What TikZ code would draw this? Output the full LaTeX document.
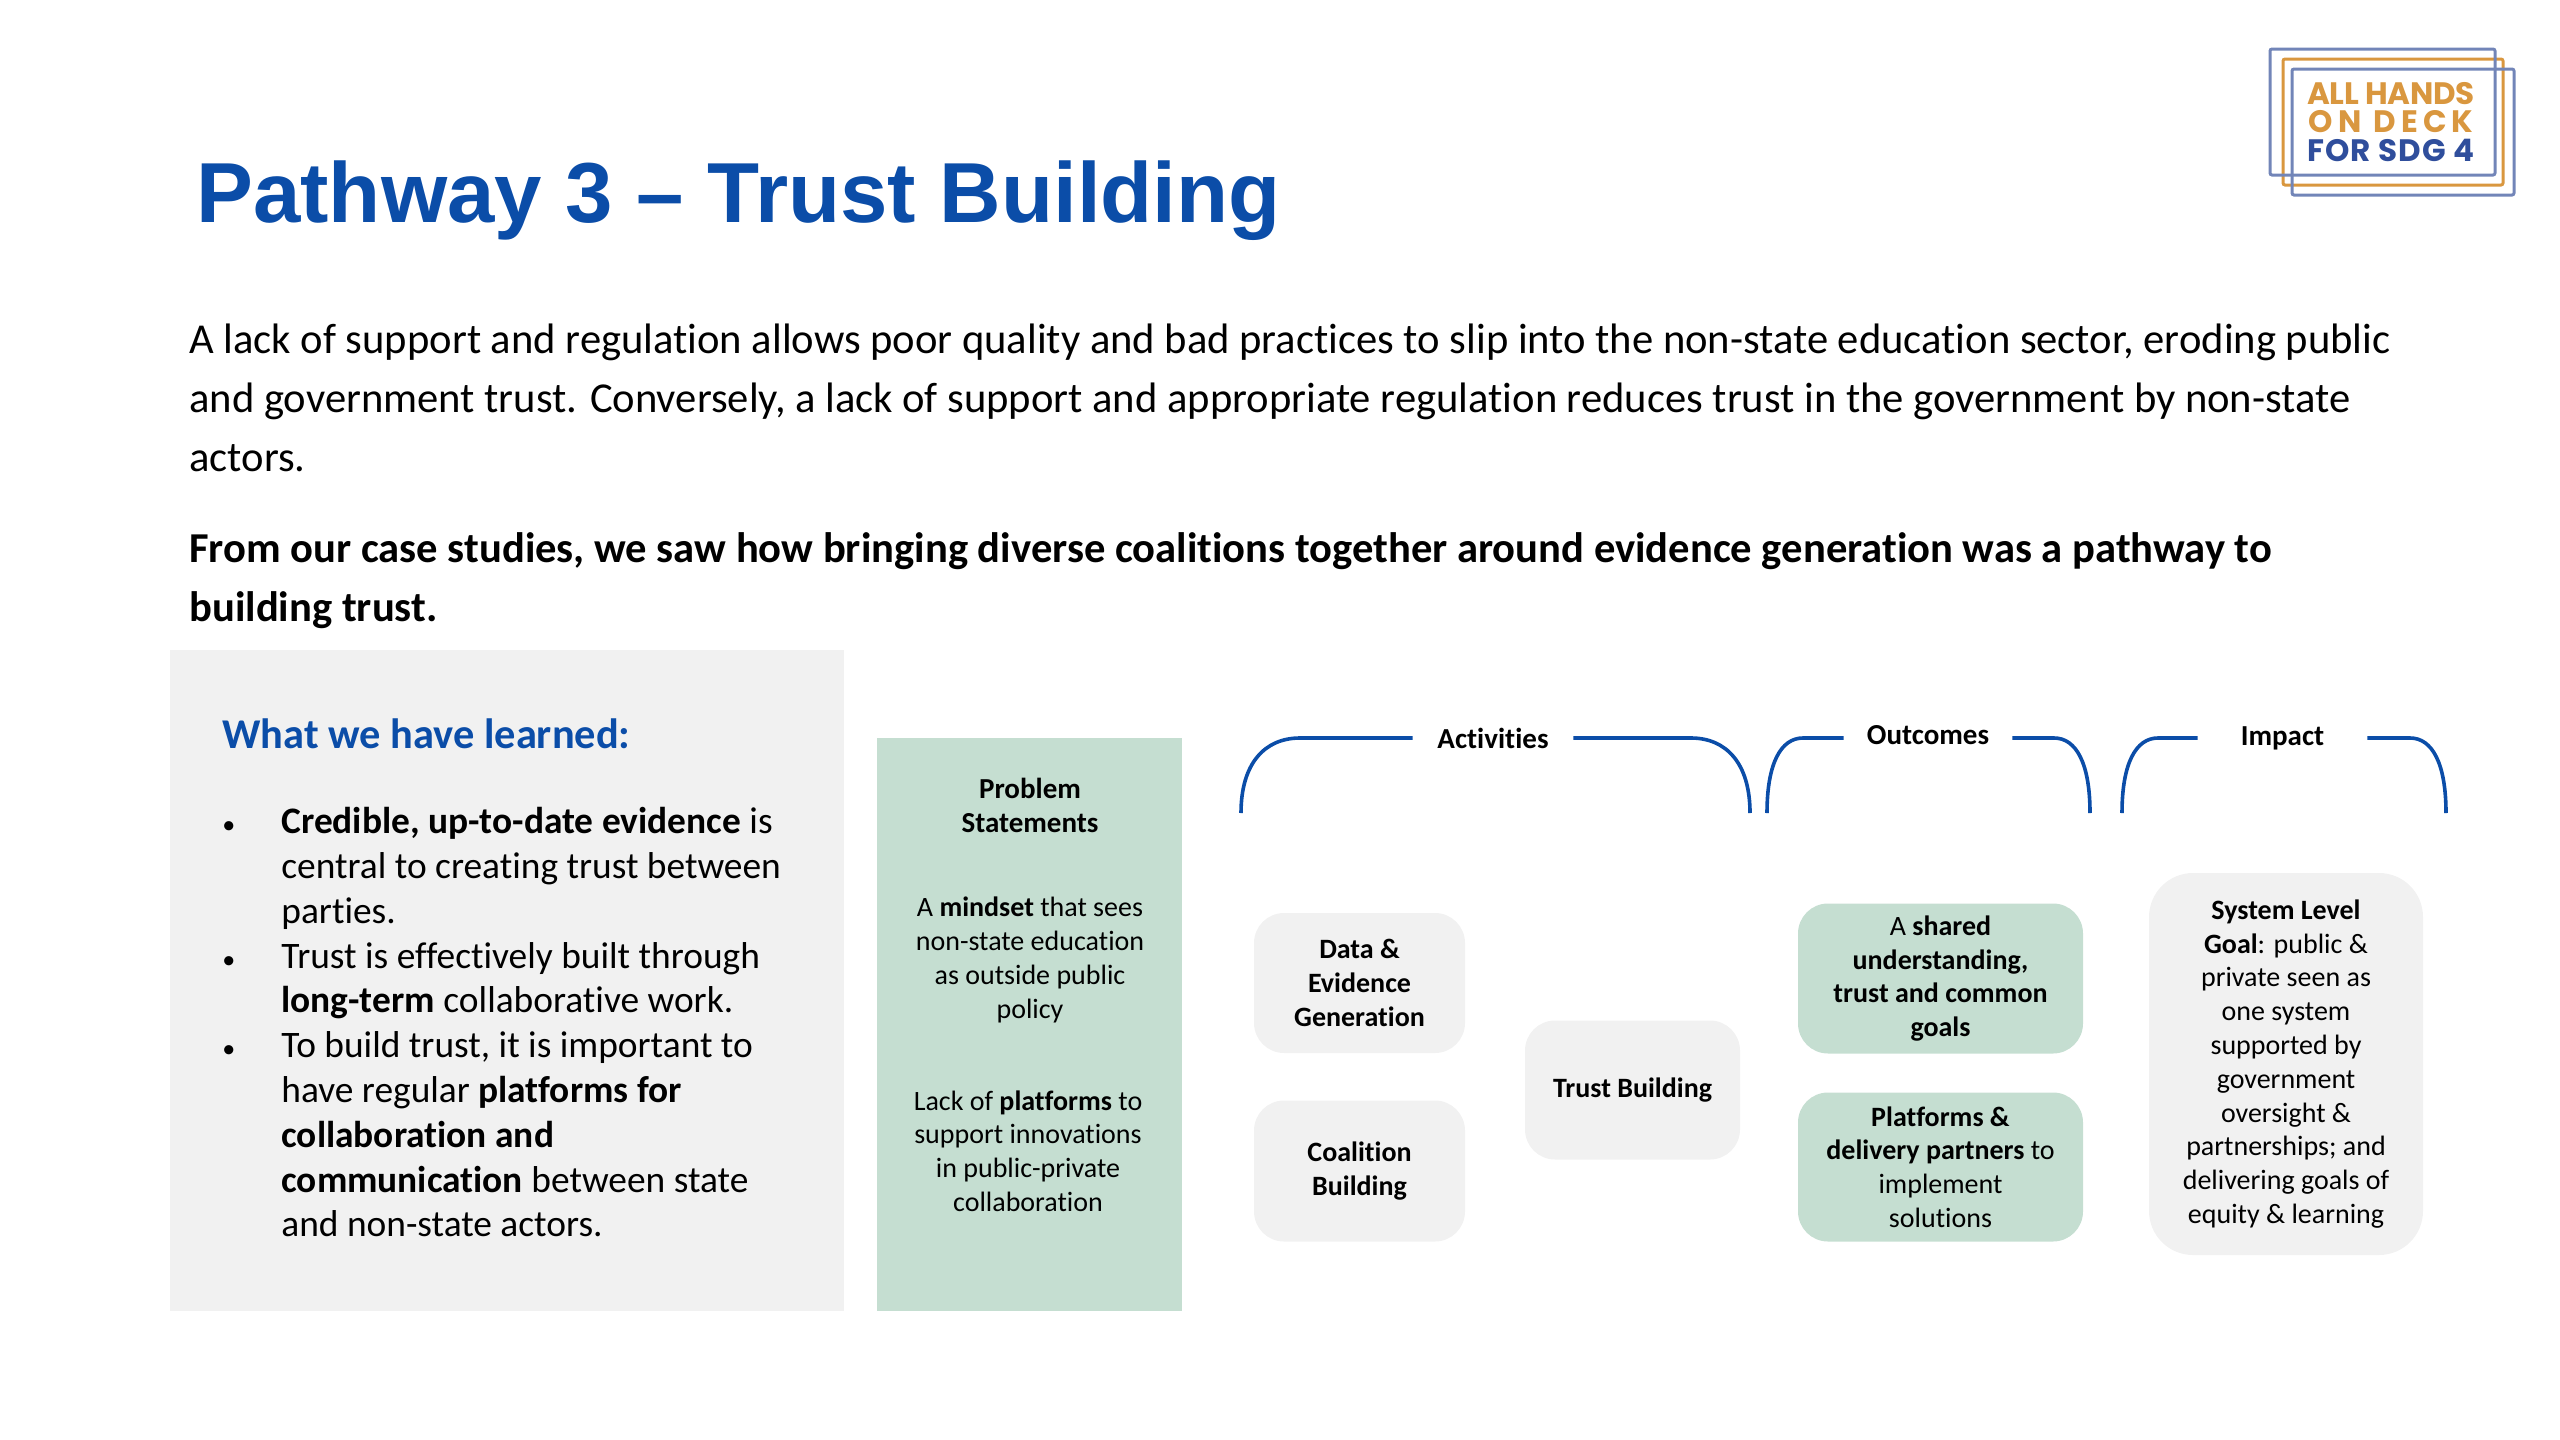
\documentclass[tikz,border=0pt]{standalone}
\usepackage{fontspec}
\usepackage{xcolor}
\setmainfont{Carlito}[Ligatures={TeX,NoCommon}]
\newfontfamily\headfont{Liberation Sans}
\newfontfamily\logofont{Poppins}
\usetikzlibrary{positioning}

\definecolor{titleblue}{HTML}{0B4DA8}
\definecolor{softgreen}{HTML}{C5DED1}
\definecolor{softgrey}{HTML}{F1F1F1}
\definecolor{logoorange}{HTML}{D9973F}
\definecolor{logoframe}{HTML}{7285B8}
\definecolor{logoblue}{HTML}{2F4E9C}

\newcommand{\lbul}{\makebox[29.5pt][l]{\fontsize{13}{13}\selectfont\textbullet}}
\newcommand{\lind}{\hspace*{29.5pt}}

\begin{document}
\begin{tikzpicture}[
  x=0.5pt,
  y=-0.5pt,
  % Panel and box styles
  panel/.style={
    rectangle,
    fill=#1,
    inner sep=0pt
  },
  box/.style={
    panel=#1,
    rounded corners=15pt,
    align=center,
    font=\fontsize{14}{16.9}\selectfont
  },
  boldbox/.style={
    box=#1,
    font=\fontsize{14}{16.9}\selectfont\bfseries
  },
  % Text styles
  para/.style={
    anchor=west,
    align=left,
    inner sep=0pt,
    font=\fontsize{21.3}{29.4}\selectfont
  },
  ptext/.style={
    align=center,
    inner sep=0pt,
    font=\fontsize{14}{16.9}\selectfont
  },
  head/.style={
    inner sep=0pt,
    font=\fontsize{14.5}{17}\selectfont\bfseries
  },
  % Bracket style
  bracket/.style={
    line width=1.8pt,
    draw=titleblue
  },
  % Logo styles
  logoline/.style={
    line width=1.5pt,
    draw=#1,
    rounded corners=1pt
  },
  logotext/.style={
    inner sep=0pt,
    text=#1,
    font=\logofont\bfseries\fontsize{15.5}{16}\selectfont
  }
]
\useasboundingbox (0,0) rectangle (2560,1440);

% === LOGO ===
\draw[logoline=logoorange] (2283,59) rectangle (2503,185);
\draw[logoline=logoframe] (2270,49) rectangle (2495,175);
\draw[logoline=logoframe] (2292,69) rectangle (2514,195);
\node[logotext=logoorange] (logoa) at (2391,94) {\addfontfeature{LetterSpace=-1}ALL HANDS};
\node[logotext=logoorange] (logob) at (2391,122) {\addfontfeature{LetterSpace=17}ON DECK};
\node[logotext=logoblue] (logoc) at (2391,150) {\addfontfeature{LetterSpace=3}FOR SDG 4};

% === TITLE AND TEXT ===
\node[anchor=west, inner sep=0pt, text=titleblue, font=\headfont\bfseries\fontsize{42.6}{50}\selectfont] (title) at (196,201) {Pathway 3 – Trust Building};

\node[para] (intro) at (189,398) {A lack of support and regulation allows poor quality and bad practices to slip into the non-state education sector, eroding public\\
and government trust. Conversely, a lack of support and appropriate regulation reduces trust in the government by non-state\\
actors.};
\node[para, font=\fontsize{21.3}{29.4}\selectfont\bfseries] (finding) at (189,581) {From our case studies, we saw how bringing diverse coalitions together around evidence generation was a pathway to\\
building trust.};

% === LEFT PANEL ===
\node[panel=softgrey, minimum width=337pt, minimum height=330.5pt] (learned) at (507,980.5) {};
\node[anchor=west, inner sep=0pt, text=titleblue, font=\fontsize{21.2}{25}\selectfont\bfseries] (learnedhead) at (222,734) {What we have learned:};
\node[anchor=north west, align=left, inner sep=0pt, font=\fontsize{18.7}{22.4}\selectfont] (learnedlist) at (222,807) {\lbul\textbf{Credible, up-to-date evidence} is\\
\lind central to creating trust between\\
\lind parties.\\
\lbul Trust is effectively built through\\
\lind\textbf{long-term} collaborative work.\\
\lbul To build trust, it is important to\\
\lind have regular \textbf{platforms for}\\
\lind\textbf{collaboration and}\\
\lind\textbf{communication} between state\\
\lind and non-state actors.};

% === PROBLEM PANEL ===
\node[panel=softgreen, minimum width=152.5pt, minimum height=286.5pt] (problem) at (1029.5,1024.5) {};
\node[head, align=center] (problemhead) at (1030,805) {Problem\\Statements};
\node[ptext] (mindset) at (1030,960) {A \textbf{mindset} that sees\\non-state education\\as outside public\\policy};
\node[ptext] (platforms) at (1028,1151) {Lack of \textbf{platforms} to\\support innovations\\in public-private\\collaboration};

% === BOXES ===
\node[boldbox=softgrey, minimum width=105.5pt, minimum height=70pt] (data) at (1359.5,983) {Data \&\\Evidence\\Generation};
\node[boldbox=softgrey, minimum width=105.5pt, minimum height=70.5pt] (coalition) at (1359.5,1171) {Coalition\\Building};
\node[boldbox=softgrey, minimum width=107.5pt, minimum height=69.5pt] (trust) at (1632.5,1090) {Trust Building};

\node[boldbox=softgreen, minimum width=142.5pt, minimum height=75pt] (shared) at (1940.5,978.5) {\textmd{A} shared\\understanding,\\trust and common\\goals};
\node[box=softgreen, minimum width=142.5pt, minimum height=74.5pt] (partners) at (1940.5,1167) {\textbf{Platforms \&}\\\textbf{delivery partners} to\\implement\\solutions};

\node[box=softgrey, minimum width=137pt, minimum height=191pt, rounded corners=22pt] (system) at (2286,1064) {\textbf{System Level}\\\textbf{Goal}: public \&\\private seen as\\one system\\supported by\\government\\oversight \&\\partnerships; and\\delivering goals of\\equity \& learning};

% === BRACKETS ===
\node[head, minimum width=80pt] (activities) at (1493,738) {Activities};
\node[head, minimum width=84pt] (outcomes) at (1928,735) {Outcomes};
\node[head, minimum width=84.5pt] (impact) at (2282.5,738) {Impact};

\coordinate (actla) at (1241,813);
\coordinate (actlb) at (1300,738);
\coordinate (actrb) at (1691,738);
\coordinate (actra) at (1750,813);
\coordinate (outla) at (1767,813);
\coordinate (outlb) at (1803,738);
\coordinate (outrb) at (2054,738);
\coordinate (outra) at (2090,813);
\coordinate (impla) at (2122,813);
\coordinate (implb) at (2158,738);
\coordinate (imprb) at (2410,738);
\coordinate (impra) at (2446,813);

\draw[bracket] (actla) .. controls +(0,-50) and +(-35,0) .. (actlb) -- (activities.west);
\draw[bracket] (activities.east) -- (actrb) .. controls +(35,0) and +(0,-50) .. (actra);
\draw[bracket] (outla) .. controls +(0,-50) and +(-22,0) .. (outlb) -- (outlb -| outcomes.west);
\draw[bracket] (outrb -| outcomes.east) -- (outrb) .. controls +(22,0) and +(0,-50) .. (outra);
\draw[bracket] (impla) .. controls +(0,-50) and +(-22,0) .. (implb) -- (impact.west);
\draw[bracket] (impact.east) -- (imprb) .. controls +(22,0) and +(0,-50) .. (impra);

\end{tikzpicture}
\end{document}
